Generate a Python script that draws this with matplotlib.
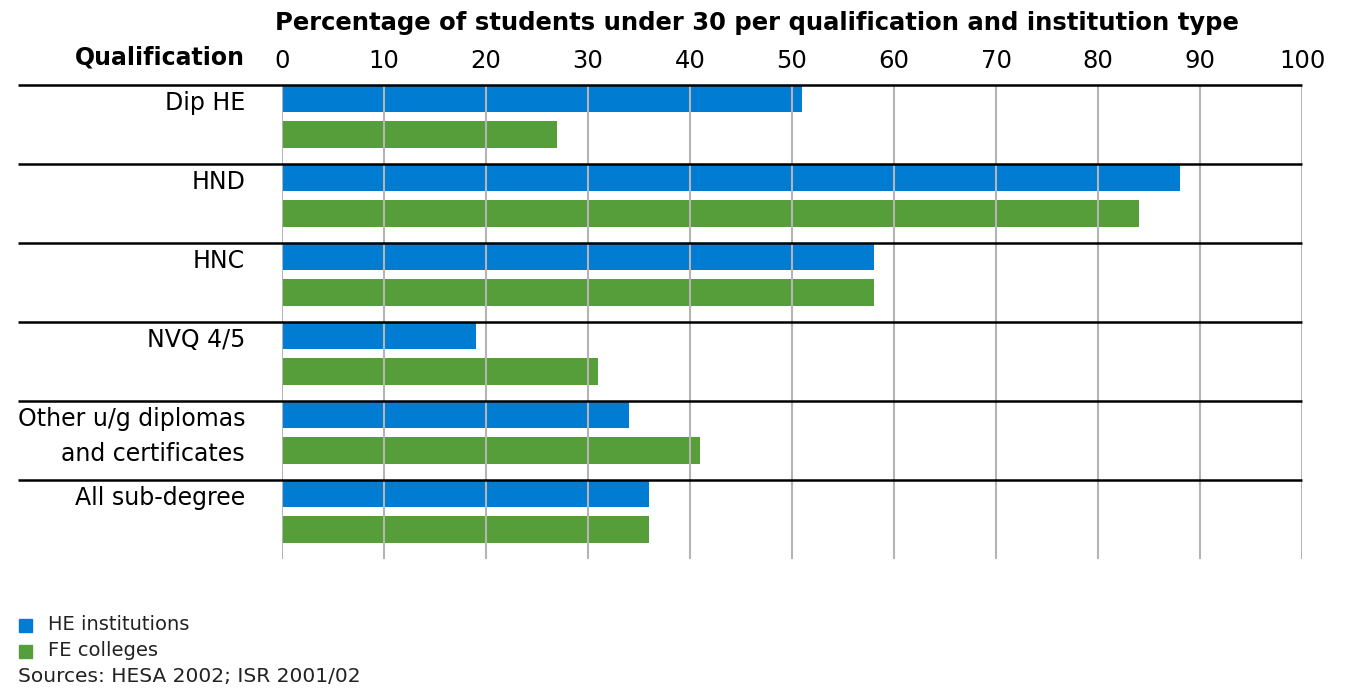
import matplotlib
matplotlib.use("Agg")
import matplotlib.pyplot as plt
import numpy as np

categories = ["Dip HE", "HND", "HNC", "NVQ 4/5", "Other u/g diplomas\nand certificates", "All sub-degree"]
he_institutions = [51, 88, 58, 19, 34, 36]
fe_colleges = [27, 84, 58, 31, 41, 36]
xticks = [0, 10, 20, 30, 40, 50, 60, 70, 80, 90, 100]
series_names = ["HE institutions", "FE colleges"]
title = "Percentage of students under 30 per qualification and institution type"
source = "Sources: HESA 2002; ISR 2001/02"

BLUE = "#007cd2"
GREEN = "#559e3a"
GRID = "#b4b4b4"

plt.rcParams['font.family'] = ['DejaVu Sans']

W, H = 1345, 688
fig = plt.figure(figsize=(W / 100, H / 100), dpi=100)
L, R, T, B = 282, 1302, 85, 559
ax = fig.add_axes([L / W, 1 - B / H, (R - L) / W, (B - T) / H])

n = len(categories)
ax.set_xlim(0, 100)
ax.set_ylim(n, 0)

pos = np.arange(n)
bh = 0.34
ax.barh(pos + 0.177, he_institutions, height=bh, color=BLUE, zorder=2, label=series_names[0])
ax.barh(pos + 0.627, fe_colleges, height=bh, color=GREEN, zorder=2, label=series_names[1])

for xv in xticks:
    ax.axvline(xv, color=GRID, lw=1.5, zorder=3)
for s in ax.spines.values():
    s.set_visible(False)

# separators
sep_left = (18 - L) / (R - L)
for i in range(n):
    ax.plot([sep_left, 1], [i, i], transform=ax.get_yaxis_transform(), color="black",
            lw=1.8, clip_on=False, zorder=4, solid_capstyle="butt")

ax.xaxis.tick_top()
ax.set_xticks(xticks)
ax.set_xticklabels([str(v) for v in xticks], fontsize=17.5)
ax.tick_params(axis="x", length=0, pad=9)
ax.set_yticks([])

lab_x = (245 - L) / (R - L)
for i, c in enumerate(categories):
    lines = c.split("\n")
    for j, line in enumerate(lines):
        ax.text(lab_x, i + 0.23 + 0.44 * j, line, transform=ax.get_yaxis_transform(),
                ha="right", va="center", fontsize=17)

fig.text(245 / W, 1 - 58 / H, "Qualification", ha="right", va="center", fontsize=17, fontweight="bold")
fig.text(757 / W, 1 - 23 / H, title, ha="center", va="center", fontsize=17.5, fontweight="bold")

# legend
for k, (name, col) in enumerate(zip(series_names, [BLUE, GREEN])):
    yc = 625 + 26 * k
    fig.patches.append(plt.Rectangle((19 / W, 1 - (yc + 6.5) / H), 13 / W, 13 / H,
                                     transform=fig.transFigure, color=col))
    fig.text(48 / W, 1 - yc / H, name, ha="left", va="center", fontsize=14, color="#222222")
fig.text(18 / W, 1 - 677 / H, source, ha="left", va="center", fontsize=14.5, color="#222222")

fig.savefig("out.png", dpi=100, facecolor="white")
